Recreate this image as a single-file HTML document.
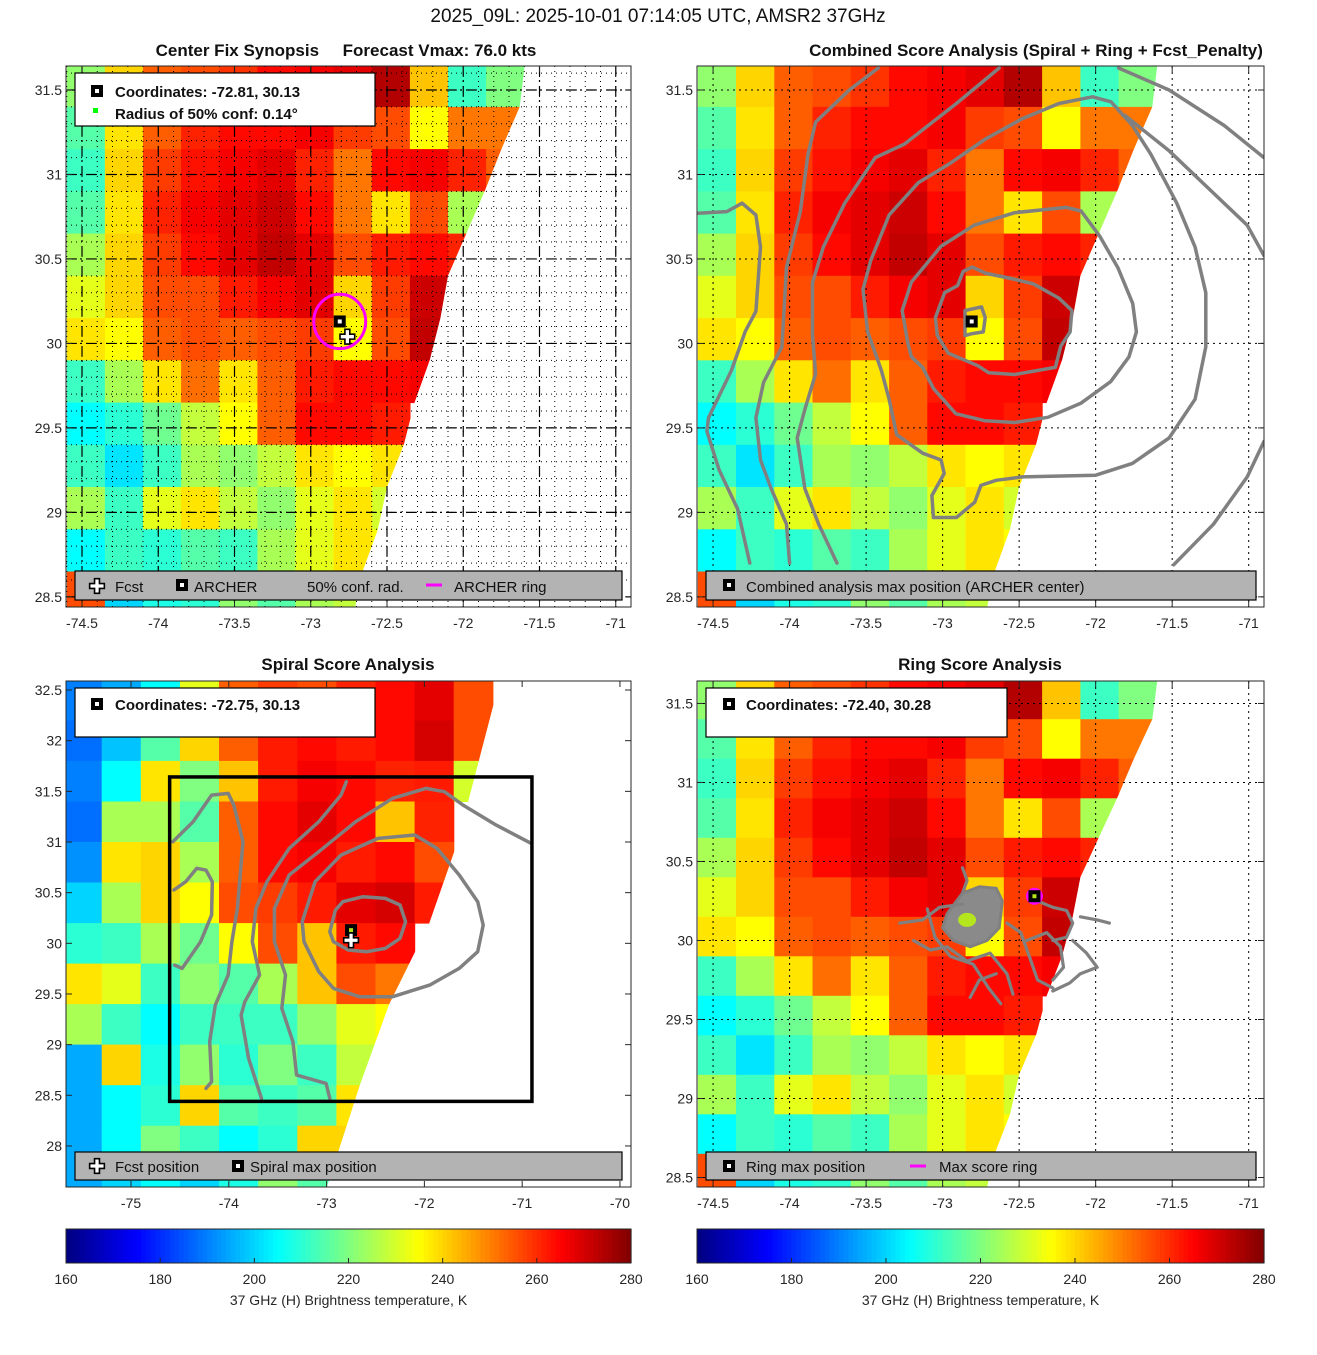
<!DOCTYPE html>
<html><head><meta charset="utf-8">
<style>
body{margin:0;background:#fff;}
svg text{font-family:"Liberation Sans",sans-serif;}
</style></head>
<body>
<svg id="fig" xmlns="http://www.w3.org/2000/svg" width="1317" height="1350" viewBox="0 0 1317 1350">
<rect x="0" y="0" width="1317" height="1350" fill="#fff"/>
<text x="658" y="22" text-anchor="middle" font-size="19" fill="#111">2025_09L: 2025-10-01 07:14:05 UTC, AMSR2 37GHz</text>
<text x="346" y="56" text-anchor="middle" font-size="17" font-weight="bold" fill="#111" xml:space="preserve">Center Fix Synopsis     Forecast Vmax: 76.0 kts</text>
<text x="1036" y="56" text-anchor="middle" font-size="17" font-weight="bold" fill="#111">Combined Score Analysis (Spiral + Ring + Fcst_Penalty)</text>
<text x="348" y="670" text-anchor="middle" font-size="17" font-weight="bold" fill="#111">Spiral Score Analysis</text>
<text x="980" y="670" text-anchor="middle" font-size="17" font-weight="bold" fill="#111">Ring Score Analysis</text>
<defs id="defs"></defs>
</svg>
<script>
// ---------- data ----------
const vmin = 160, vmax = 280;
// Grid A: 0.25 deg cells, lon from -74.6 eastward, lat rows from 31.65 southward
const gridALon0 = -74.6;
const gridALat0 = 31.65;
const gridAStep = 0.25;
const gridA = [
 [222,240,254,256,259,264,266,268,274,242,212,220,null],
 [215,238,254,261,264,264,266,258,256,235,251,251,null],
 [212,240,258,263,266,268,261,251,264,266,261,254,null],
 [215,238,261,266,268,271,264,251,238,256,225,228,null],
 [225,240,258,264,268,272,268,256,262,264,261,null,null],
 [232,240,256,256,262,266,268,240,258,271,264,null,null],
 [238,235,254,256,254,256,258,235,256,272,null,null,null],
 [212,225,238,252,238,254,262,264,264,266,null,null,null],
 [205,210,218,228,235,254,264,264,262,null,null,null,null],
 [212,202,212,225,222,228,238,235,238,null,null,null,null],
 [225,212,232,238,228,222,232,238,230,null,null,null,null],
 [205,212,210,215,212,225,232,238,235,null,null,null,null],
 [256,200,208,210,222,215,225,228,null,null,null,null,null]
];
// swath edge for top/ring panels: [lat, lon]
const edgeA = [[31.7,-71.59],[31.4,-71.63],[31.15,-71.75],[30.9,-71.86],[30.65,-71.98],[30.4,-72.10],[30.15,-72.15],[29.9,-72.22],[29.65,-72.32],[29.4,-72.39],[29.15,-72.50],[28.9,-72.56],[28.65,-72.66],[28.35,-72.73]];
// Grid B (spiral panel): 0.4 deg cells
const gridBLon0 = -75.7;
const gridBLat0 = 32.6;
const gridBStep = 0.4;
const gridB = [
 [190,195,205,232,254,258,256,261,264,268,256,null],
 [188,198,215,240,254,262,264,262,264,270,256,null],
 [190,205,238,220,242,262,266,264,261,262,230,null],
 [188,225,225,215,254,264,268,264,242,261,null,null],
 [192,238,240,225,254,264,266,262,264,256,null,null],
 [200,225,240,235,256,258,262,268,270,262,null,null],
 [210,212,225,218,235,256,242,262,264,null,null,null],
 [238,232,212,222,215,225,242,256,251,null,null,null],
 [225,212,205,212,212,212,222,232,235,null,null,null],
 [195,240,208,222,210,220,212,228,null,null,null,null],
 [195,205,210,240,215,212,215,238,null,null,null,null],
 [195,205,220,212,205,210,240,240,null,null,null,null],
 [195,200,205,200,208,222,215,null,null,null,null,null]
];
const edgeB = [[32.7,-71.2],[31.0,-71.66],[30.2,-71.95],[29.4,-72.36],[28.6,-72.66],[27.5,-73.03]];
// centers
const archer = [-72.81, 30.13];
const fcst = [-72.76, 30.04];
const spiralMax = [-72.75, 30.13];
const spiralFcst = [-72.75, 30.03];
const ringMax = [-72.40, 30.28];
const ringRadiusDeg = 0.17;
// contours (lon, lat)
const comboContours = [
 [[-72.854,30.047],[-72.854,30.195],[-72.746,30.216],[-72.722,30.153],[-72.734,30.068],[-72.806,30.058],[-72.854,30.047]],
 [[-73.047,30.153],[-72.987,30.300],[-72.902,30.342],[-72.866,30.426],[-72.806,30.452],[-72.722,30.416],[-72.553,30.384],[-72.408,30.353],[-72.240,30.268],[-72.155,30.195],[-72.167,30.068],[-72.228,29.984],[-72.264,29.858],[-72.529,29.816],[-72.698,29.826],[-72.770,29.868],[-72.963,29.942],[-73.035,30.047],[-73.047,30.153]],
 [[-73.264,30.195],[-73.204,30.363],[-73.011,30.574],[-72.794,30.700],[-72.529,30.774],[-72.192,30.805],[-72.095,30.784],[-71.975,30.637],[-71.854,30.447],[-71.758,30.237],[-71.734,30.068],[-71.782,29.921],[-71.902,29.774],[-72.095,29.647],[-72.312,29.563],[-72.529,29.532],[-72.722,29.542],[-72.914,29.584],[-73.059,29.732],[-73.131,29.858],[-73.204,29.921],[-73.228,30.005],[-73.264,30.195]],
 [[-74.60,30.77],[-74.41,30.78],[-74.31,30.83],[-74.22,30.76],[-74.19,30.57],[-74.22,30.19],[-74.29,30.07],[-74.38,29.84],[-74.53,29.56],[-74.54,29.48],[-74.46,29.25],[-74.34,29.02],[-74.26,28.70]],
 [[-73.42,31.63],[-73.61,31.50],[-73.83,31.31],[-73.88,31.12],[-73.93,30.78],[-74.02,30.45],[-74.05,29.98],[-74.17,29.77],[-74.22,29.56],[-74.19,29.31],[-74.12,29.14],[-74.02,28.93],[-74.00,28.70]],
 [[-72.63,31.63],[-72.91,31.42],[-73.25,31.18],[-73.44,31.10],[-73.64,30.83],[-73.78,30.57],[-73.85,30.36],[-73.85,30.05],[-73.83,29.82],[-73.90,29.61],[-73.95,29.44],[-73.90,29.14],[-73.81,28.93],[-73.69,28.70]],
 [[-72.02,31.46],[-72.24,31.42],[-72.48,31.33],[-72.72,31.21],[-72.96,31.06],[-73.16,30.95],[-73.35,30.76],[-73.47,30.49],[-73.52,30.32],[-73.49,30.07],[-73.40,29.84],[-73.35,29.67],[-73.30,29.46],[-73.13,29.35],[-73.01,29.31],[-72.99,29.23],[-73.07,29.10],[-73.06,28.97],[-72.91,28.97],[-72.79,29.06],[-72.75,29.16],[-72.65,29.19],[-72.48,29.21],[-72.00,29.22],[-71.76,29.29],[-71.52,29.44],[-71.35,29.67],[-71.28,29.98],[-71.28,30.30],[-71.35,30.57],[-71.47,30.83],[-71.64,31.12],[-71.76,31.29],[-71.90,31.43],[-72.02,31.46]],
 [[-71.85,31.63],[-71.52,31.50],[-71.16,31.29],[-70.90,31.10]],
 [[-71.81,31.35],[-71.52,31.14],[-71.23,30.89],[-71.01,30.70],[-70.90,30.52]],
 [[-71.49,28.69],[-71.23,28.93],[-71.01,29.21],[-70.90,29.42]]
];
const spiralContours = [
 [[-74.573,31.003],[-74.365,31.200],[-74.176,31.463],[-74.006,31.480],[-73.949,31.365],[-73.855,31.003],[-73.912,30.345],[-73.968,30.016],[-74.006,29.687],[-74.138,29.390],[-74.195,29.029],[-74.176,28.634],[-74.233,28.568]],
 [[-74.554,29.785],[-74.478,29.752],[-74.289,30.016],[-74.176,30.279],[-74.169,30.608],[-74.233,30.723],[-74.327,30.740],[-74.441,30.608],[-74.562,30.526]],
 [[-72.797,31.595],[-72.853,31.463],[-73.080,31.200],[-73.382,30.937],[-73.609,30.608],[-73.723,30.345],[-73.760,30.016],[-73.685,29.687],[-73.836,29.423],[-73.874,29.292],[-73.798,28.864],[-73.666,28.469]],
 [[-70.907,30.986],[-71.266,31.167],[-71.606,31.365],[-71.795,31.496],[-71.984,31.529],[-72.324,31.431],[-72.702,31.200],[-73.080,30.904],[-73.382,30.674],[-73.534,30.345],[-73.534,30.016],[-73.420,29.687],[-73.458,29.358],[-73.345,29.029],[-73.307,28.699],[-73.005,28.617],[-72.967,28.469]],
 [[-73.250,30.213],[-73.118,30.608],[-72.853,30.871],[-72.475,31.036],[-72.098,31.069],[-71.871,30.937],[-71.644,30.674],[-71.455,30.411],[-71.398,30.180],[-71.455,29.917],[-71.644,29.752],[-71.946,29.588],[-72.324,29.473],[-72.664,29.473],[-72.929,29.555],[-73.080,29.720],[-73.231,30.016],[-73.250,30.213]],
 [[-72.967,30.114],[-72.910,30.328],[-72.834,30.411],[-72.627,30.460],[-72.400,30.443],[-72.249,30.378],[-72.192,30.213],[-72.249,30.049],[-72.400,29.950],[-72.589,29.917],[-72.778,29.934],[-72.929,30.016],[-72.967,30.114]]
];
const ringBlob = [[-72.97,30.17],[-72.87,30.30],[-72.76,30.34],[-72.65,30.33],[-72.61,30.25],[-72.63,30.08],[-72.71,30.00],[-72.82,29.96],[-72.93,30.00],[-73.00,30.08],[-72.97,30.17]];
const ringContours = [
 [[-73.28,30.11],[-73.13,30.13],[-73.02,30.21],[-72.87,30.23]],
 [[-73.19,30.00],[-73.08,29.94],[-72.97,29.96],[-72.84,29.87],[-72.69,29.92],[-72.58,29.79],[-72.54,29.66]],
 [[-72.82,29.64],[-72.76,29.75],[-72.65,29.79]],
 [[-72.58,30.11],[-72.49,30.05],[-72.43,29.89],[-72.38,29.75],[-72.28,29.70]],
 [[-72.45,30.00],[-72.32,30.05],[-72.23,29.96],[-72.21,29.83],[-72.28,29.75]],
 [[-72.38,30.25],[-72.28,30.21],[-72.19,30.19],[-72.15,30.11],[-72.19,30.02],[-72.28,30.00]],
 [[-72.15,30.00],[-72.06,29.92],[-71.99,29.83],[-72.10,29.79],[-72.17,29.73],[-72.28,29.68]],
 [[-72.10,30.15],[-71.99,30.13],[-71.91,30.11]],
 [[-72.87,30.46],[-72.84,30.38],[-72.87,30.30]],
 [[-73.10,30.20],[-73.05,30.02],[-72.95,29.90],[-72.80,29.85],[-72.70,29.70],[-72.62,29.60]]
];
const xTicksA = [-74.5,-74,-73.5,-73,-72.5,-72,-71.5,-71];
const xTickLabelsA = ["-74.5","-74","-73.5","-73","-72.5","-72","-71.5","-71"];
const yTicksA = [31.5,31,30.5,30,29.5,29,28.5];
const yTickLabelsA = ["31.5","31","30.5","30","29.5","29","28.5"];
const xTicksB = [-75,-74,-73,-72,-71,-70];
const xTickLabelsB = ["-75","-74","-73","-72","-71","-70"];
const yTicksB = [32.5,32,31.5,31,30.5,30,29.5,29,28.5,28];
const yTickLabelsB = ["32.5","32","31.5","31","30.5","30","29.5","29","28.5","28"];
const cbTicks = [160,180,200,220,240,260,280];

// ---------- helpers ----------
const NS = "http://www.w3.org/2000/svg";
const svg = document.getElementById('fig');
const defs = document.getElementById('defs');
function mk(tag, attrs, parent){const e=document.createElementNS(NS,tag);for(const k in attrs)e.setAttribute(k,attrs[k]);(parent||svg).appendChild(e);return e;}
function jet(v){let t=(v-vmin)/(vmax-vmin);t=Math.max(0,Math.min(1,t));
 const c=x=>Math.round(255*Math.max(0,Math.min(1,1.5-Math.abs(x))));
 return `rgb(${c(4*t-3)},${c(4*t-2)},${c(4*t-1)})`;}
const panels = {
 p1:{x0:66,x1:631,y0:66,y1:607,lo0:-74.605,lo1:-70.9,la0:28.44,la1:31.642},
 p2:{x0:697,x1:1264,y0:66,y1:607,lo0:-74.605,lo1:-70.9,la0:28.44,la1:31.642},
 p3:{x0:66,x1:631,y0:681,y1:1187,lo0:-75.665,lo1:-69.887,la0:27.595,la1:32.589},
 p4:{x0:697,x1:1264,y0:681,y1:1187,lo0:-74.605,lo1:-70.9,la0:28.44,la1:31.642}
};
function sx(p,lon){return p.x0+(lon-p.lo0)/(p.lo1-p.lo0)*(p.x1-p.x0);}
function sy(p,lat){return p.y1-(lat-p.la0)/(p.la1-p.la0)*(p.y1-p.y0);}

function panelGroup(id,p){
 const cp=mk('clipPath',{id:'clip-'+id},defs);
 mk('rect',{x:p.x0,y:p.y0,width:p.x1-p.x0,height:p.y1-p.y0},cp);
 const g=mk('g',{'clip-path':'url(#clip-'+id+')'});
 
 
 return g;
}
function drawGrid(p,g,vals,lon0,lat0,step,id){
 for(let r=0;r<vals.length;r++){for(let c=0;c<vals[r].length;c++){
  const v=vals[r][c]; if(v===null) continue;
  const lo=lon0+c*step, la=lat0-r*step;
  const x=sx(p,lo), y=sy(p,la), x2=sx(p,lo+step), y2=sy(p,la-step);
  const e=mk('rect',{x:x.toFixed(1),y:y.toFixed(1),width:(x2-x+0.6).toFixed(1),height:(y2-y+0.6).toFixed(1),fill:jet(v)},g);
  
  
 }}
}
function drawMask(p,g,edge,id){
 let pts=edge.map(d=>sx(p,d[1]).toFixed(1)+','+sy(p,d[0]).toFixed(1));
 pts.push((p.x1+50)+','+(p.y1+50)); pts.push((p.x1+50)+','+(p.y0-50));
 const e=mk('polygon',{points:pts.join(' '),fill:'#fff'},g);
 
 
}
function gridLines(p,g,stepLon,stepLat,dash,width,id,nameSuffix){
 for(let lo=Math.ceil(p.lo0/stepLon)*stepLon;lo<p.lo1;lo+=stepLon){
  const x=sx(p,lo);
  const e=mk('line',{x1:x,x2:x,y1:p.y0,y2:p.y1,stroke:'#000','stroke-width':width,'stroke-dasharray':dash},g);
  
  
 }
 for(let la=Math.ceil(p.la0/stepLat)*stepLat;la<p.la1;la+=stepLat){
  const y=sy(p,la);
  const e=mk('line',{x1:p.x0,x2:p.x1,y1:y,y2:y,stroke:'#000','stroke-width':width,'stroke-dasharray':dash},g);
  
  
 }
}
function contour(p,g,pts,id,w){
 const d=pts.map(q=>sx(p,q[0]).toFixed(1)+','+sy(p,q[1]).toFixed(1)).join(' ');
 const e=mk('polyline',{points:d,fill:'none',stroke:'#808080','stroke-width':w||3.5,'stroke-linejoin':'round','stroke-linecap':'round'},g);
 
 
}
function squareMarker(x,y,name,inner){
 const g=mk('g',{});
 
 
 mk('rect',{x:x-6,y:y-6,width:12,height:12,fill:'#000'},g);
 mk('rect',{x:x-2,y:y-2,width:4,height:4,fill:inner||'#fff'},g);
 return g;
}
function crossMarker(x,y,name){
 const s=3.5;
 const pts=[[-s,-3*s],[s,-3*s],[s,-s],[3*s,-s],[3*s,s],[s,s],[s,3*s],[-s,3*s],[-s,s],[-3*s,s],[-3*s,-s],[-s,-s]].map(q=>(x+q[0]*0.7)+','+(y+q[1]*0.7)).join(' ');
 const e=mk('polygon',{points:pts,fill:'#fff',stroke:'#000','stroke-width':1.6});
 
 
}
function axes(p,id,xt,xl,yt,yl){
 const fr=mk('rect',{x:p.x0,y:p.y0,width:p.x1-p.x0,height:p.y1-p.y0,fill:'none',stroke:'#262626','stroke-width':1});
 
 
 xt.forEach((v,i)=>{const x=sx(p,v);
  mk('line',{x1:x,x2:x,y1:p.y1,y2:p.y1-6,stroke:'#262626'});
  mk('line',{x1:x,x2:x,y1:p.y0,y2:p.y0+6,stroke:'#262626'});
  const t=mk('text',{x:x,y:p.y1+21,'text-anchor':'middle','font-size':14,fill:'#262626'});t.textContent=xl[i];
  
  });
 yt.forEach((v,i)=>{const y=sy(p,v);
  mk('line',{x1:p.x0,x2:p.x0+6,y1:y,y2:y,stroke:'#262626'});
  mk('line',{x1:p.x1,x2:p.x1-6,y1:y,y2:y,stroke:'#262626'});
  const t=mk('text',{x:p.x0-4,y:y+5,'text-anchor':'end','font-size':14,fill:'#262626'});t.textContent=yl[i];
  
  });
}
function box(x,y,w,h,fill,name){
 const e=mk('rect',{x:x,y:y,width:w,height:h,fill:fill,stroke:'#000','stroke-width':1.2});
 
 
}
function label(x,y,txt,bold,name,size){
 const t=mk('text',{x:x,y:y,'font-size':size||15,'font-weight':bold?'bold':'normal',fill:'#111'});
 t.textContent=txt;
 
 
}

// ---------- panel 1 ----------
(function(){const p=panels.p1,id='p1',g=panelGroup(id,p);
 drawGrid(p,g,gridA,gridALon0,gridALat0,gridAStep,id);
 drawMask(p,g,edgeA,id);
 gridLines(p,g,0.1,0.1,'1 4',1,id,'minor-grid');
 gridLines(p,g,0.5,0.5,'10 4 2 4',1.2,id,'major-grid');
 const ring=mk('ellipse',{cx:sx(p,archer[0]),cy:sy(p,archer[1]),rx:ringRadiusDeg*152.6,ry:ringRadiusDeg*160,fill:'none',stroke:'#f0f','stroke-width':3},g);
 
 
 squareMarker(sx(p,archer[0]),sy(p,archer[1]),'archer-center-marker');
 crossMarker(sx(p,fcst[0]),sy(p,fcst[1]),'forecast-position-marker');
 axes(p,id,xTicksA,xTickLabelsA,yTicksA,yTickLabelsA);
 box(75,73,300,53,'#fff','p1-info-box');
 squareMarker(97,91,'p1-info-square');
 label(115,97,'Coordinates: -72.81, 30.13',true,'p1-coordinates-text');
 const gm=mk('rect',{x:93,y:108,width:5,height:5,fill:'#0f0'});
 label(115,119,'Radius of 50% conf: 0.14°',true,'p1-radius-text');
 box(75,571,547,29,'#b3b3b3','p1-legend');
 crossMarker(97,586,'legend-fcst-icon');
 label(115,592,'Fcst',false,'legend-fcst');
 squareMarker(182,585,'legend-archer-icon');
 label(194,592,'ARCHER',false,'legend-archer');
 label(307,592,'50% conf. rad.',false,'legend-conf-radius');
 const ml=mk('line',{x1:426,x2:442,y1:585,y2:585,stroke:'#f0f','stroke-width':3});
 label(454,592,'ARCHER ring',false,'legend-archer-ring');
})();
// ---------- panel 2 ----------
(function(){const p=panels.p2,id='p2',g=panelGroup(id,p);
 drawGrid(p,g,gridA,gridALon0,gridALat0,gridAStep,id);
 drawMask(p,g,edgeA,id);
 gridLines(p,g,0.5,0.5,'2 4',1,id,'grid');
 comboContours.forEach(c=>contour(p,g,c,id));
 squareMarker(sx(p,archer[0]),sy(p,archer[1]),'combined-max-marker');
 axes(p,id,xTicksA,xTickLabelsA,yTicksA,yTickLabelsA);
 box(706,571,550,29,'#b3b3b3','p2-legend');
 squareMarker(729,585,'legend-combined-icon');
 label(746,592,'Combined analysis max position (ARCHER center)',false,'legend-combined');
})();
// ---------- panel 3 ----------
(function(){const p=panels.p3,id='p3',g=panelGroup(id,p);
 drawGrid(p,g,gridB,gridBLon0,gridBLat0,gridBStep,id);
 drawMask(p,g,edgeB,id);
 spiralContours.forEach(c=>contour(p,g,c,id));
 const bx=mk('rect',{x:sx(p,-74.605),y:sy(p,31.642),width:sx(p,-70.9)-sx(p,-74.605),height:sy(p,28.44)-sy(p,31.642),fill:'none',stroke:'#000','stroke-width':3.5},g);
 
 
 squareMarker(sx(p,spiralMax[0]),sy(p,spiralMax[1]),'spiral-max-marker','#b5e61d');
 crossMarker(sx(p,spiralFcst[0]),sy(p,spiralFcst[1]),'spiral-fcst-marker');
 axes(p,id,xTicksB,xTickLabelsB,yTicksB,yTickLabelsB);
 box(75,688,300,49,'#fff','p3-info-box');
 squareMarker(97,704,'p3-info-square');
 label(115,710,'Coordinates: -72.75, 30.13',true,'p3-coordinates-text');
 box(75,1152,547,28,'#b3b3b3','p3-legend');
 crossMarker(97,1166,'legend-fcst-position-icon');
 label(115,1172,'Fcst position',false,'legend-fcst-position');
 squareMarker(238,1166,'legend-spiral-icon');
 label(250,1172,'Spiral max position',false,'legend-spiral-max');
})();
// ---------- panel 4 ----------
(function(){const p=panels.p4,id='p4',g=panelGroup(id,p);
 drawGrid(p,g,gridA,gridALon0,gridALat0,gridAStep,id);
 drawMask(p,g,edgeA,id);
 gridLines(p,g,0.5,0.5,'2 4',1,id,'grid');
 const bl=mk('polygon',{points:ringBlob.map(q=>sx(p,q[0]).toFixed(1)+','+sy(p,q[1]).toFixed(1)).join(' '),fill:'#8a8a8a',stroke:'#808080','stroke-width':3},g);
 
 
 const gr=mk('ellipse',{cx:sx(p,-72.84),cy:sy(p,30.13),rx:9,ry:7,fill:'#b5e61d'},g);
 
 
 ringContours.forEach(c=>contour(p,g,c,id,3.2));
 const rr=mk('circle',{cx:sx(p,ringMax[0]),cy:sy(p,ringMax[1]),r:7,fill:'none',stroke:'#f0f','stroke-width':3},g);
 
 
 squareMarker(sx(p,ringMax[0]),sy(p,ringMax[1]),'ring-max-marker','#b5e61d');
 axes(p,id,xTicksA,xTickLabelsA,yTicksA,yTickLabelsA);
 box(706,688,301,49,'#fff','p4-info-box');
 squareMarker(729,704,'p4-info-square');
 label(746,710,'Coordinates: -72.40, 30.28',true,'p4-coordinates-text');
 box(706,1152,550,28,'#b3b3b3','p4-legend');
 squareMarker(729,1166,'legend-ring-icon');
 label(746,1172,'Ring max position',false,'legend-ring-max');
 const ml=mk('line',{x1:910,x2:926,y1:1166,y2:1166,stroke:'#f0f','stroke-width':3});
 label(939,1172,'Max score ring',false,'legend-max-score-ring');
})();
// ---------- colorbars ----------
[[66,631,'left'],[697,1264,'right']].forEach(cb=>{
 const x0=cb[0],x1=cb[1],n=120;
 for(let i=0;i<n;i++){
  const v=vmin+(i+0.5)*(vmax-vmin)/n;
  const e=mk('rect',{x:(x0+i*(x1-x0)/n).toFixed(2),y:1229,width:((x1-x0)/n+0.6).toFixed(2),height:34,fill:jet(v)});
  
  
 }
 const fr=mk('rect',{x:x0,y:1229,width:x1-x0,height:34,fill:'none',stroke:'#262626'});
 
 
 cbTicks.forEach(v=>{const x=x0+(v-vmin)/(vmax-vmin)*(x1-x0);
  mk('line',{x1:x,x2:x,y1:1263,y2:1258,stroke:'#262626'});
  const t=mk('text',{x:x,y:1284,'text-anchor':'middle','font-size':14,fill:'#262626'});t.textContent=String(v);
  
  });
 const t=mk('text',{x:(x0+x1)/2,y:1305,'text-anchor':'middle','font-size':14,fill:'#262626'});
 t.textContent='37 GHz (H) Brightness temperature, K';
 
 
});
</script>
</body></html>
